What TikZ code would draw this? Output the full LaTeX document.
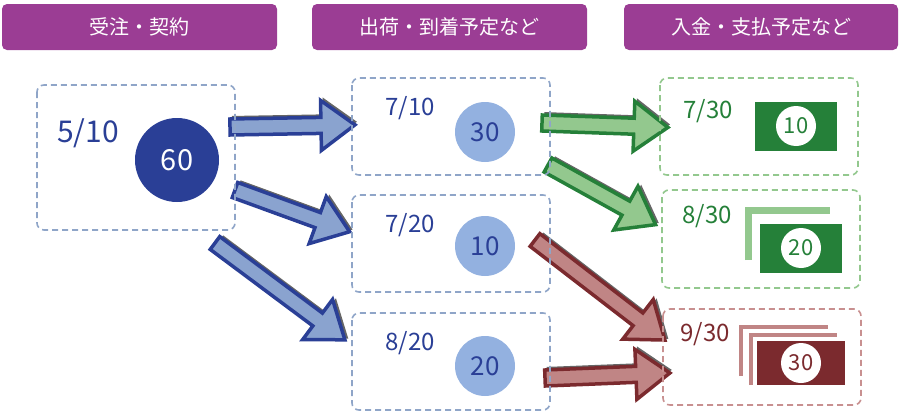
\documentclass[tikz,border=0pt]{standalone}
\usepackage{fontspec}
\setmainfont{Noto Sans CJK JP}
\definecolor{hdr}{HTML}{9B3D94}
\definecolor{bdash}{HTML}{8FA5C8}
\definecolor{bdark}{HTML}{2A3F96}
\definecolor{blight}{HTML}{93B1E0}
\definecolor{barrow}{HTML}{8AA3CF}
\definecolor{gdark}{HTML}{258039}
\definecolor{glight}{HTML}{93C88E}
\definecolor{rdark}{HTML}{7B2A2E}
\definecolor{rlight}{HTML}{C08585}
\definecolor{rdash}{HTML}{C89090}
\newcommand{\blockarrow}[6]{%
\begin{scope}[shift={(#1,#2)},rotate=-#3]
\fill[black!60,shift={(2,-3)}] (0,-8)--(#4-34,-8)--(#4-34,-25)--(#4,0)--(#4-34,25)--(#4-34,8)--(0,8)--cycle;
\draw[line width=3.5pt,line join=miter,fill=#5,draw=#6] (0,-8)--(#4-34,-8)--(#4-34,-25)--(#4,0)--(#4-34,25)--(#4-34,8)--(0,8)--cycle;
\end{scope}}
\begin{document}
\begin{tikzpicture}[x=1pt,y=-1pt,
 dbox/.style={line width=1.6pt,rounded corners=7pt,dash pattern=on 6pt off 4pt},
 datelbl/.style={font=\fontsize{24}{26}\selectfont},
 circ/.style={circle,fill=blight,text=bdark,minimum size=60pt,inner sep=0pt,font=\fontsize{26}{28}\selectfont},
 bill/.style={minimum width=82pt,minimum height=49pt,inner sep=0pt},
 billc/.style={circle,fill=white,minimum size=40pt,inner sep=0pt,font=\fontsize{22}{24}\selectfont},
 hdrtext/.style={text=white,font=\fontsize{20}{22}\selectfont}]
\useasboundingbox (0,0) rectangle (900,415);
\fill[hdr,rounded corners=5pt] (2,4) rectangle (277,50);
\node[hdrtext] (h1) at (139.5,27) {受注・契約};
\fill[hdr,rounded corners=5pt] (312,4) rectangle (587,50);
\node[hdrtext] (h2) at (449.5,27) {出荷・到着予定など};
\fill[hdr,rounded corners=5pt] (624,4) rectangle (898,50);
\node[hdrtext] (h3) at (761,27) {入金・支払予定など};
% arrows
\blockarrow{230}{127}{-1}{125}{barrow}{bdark}
\blockarrow{235}{190}{20}{122}{barrow}{bdark}
\blockarrow{215}{243}{36.7}{162}{barrow}{bdark}
\blockarrow{542}{123}{2}{126}{glight}{gdark}
\blockarrow{548}{165}{29}{123}{glight}{gdark}
\blockarrow{535}{240}{37.6}{164}{rlight}{rdark}
\blockarrow{545}{378}{-2.3}{125}{rlight}{rdark}
% left box
\draw[dbox,draw=bdash] (37,85) rectangle (235,230);
\node[text=bdark,font=\fontsize{30}{32}\selectfont] (d0) at (88,133) {5/10};
\node[circle,fill=bdark,text=white,minimum size=84pt,inner sep=0pt,font=\fontsize{29}{31}\selectfont] (c0) at (177,160) {60};
% middle
\draw[dbox,draw=bdash] (352,78) rectangle (550,175);
\draw[dbox,draw=bdash] (352,195) rectangle (550,292);
\draw[dbox,draw=bdash] (352,313) rectangle (550,410);
\node[datelbl,text=bdark] (d1) at (410,108) {7/10};
\node[circ] (c1) at (485,132) {30};
\node[datelbl,text=bdark] (d2) at (410,225) {7/20};
\node[circ] (c2) at (485,246) {10};
\node[datelbl,text=bdark] (d3) at (410,343) {8/20};
\node[circ] (c3) at (485,366) {20};
% right
\draw[dbox,draw=glight] (660,78) rectangle (858,175);
\draw[dbox,draw=glight] (662,190) rectangle (860,288);
\draw[dbox,draw=rdash] (663,309) rectangle (861,405);
\node[datelbl,text=gdark] (d4) at (708,111) {7/30};
\node[bill,fill=gdark] (b1) at (796,126) {};
\node[billc,text=gdark] (bc1) at (b1) {10};
\node[datelbl,text=gdark] (d5) at (707,216) {8/30};
\draw[glight,line width=7pt] (748,260)--(748,210)--(830,210);
\node[bill,fill=gdark] (b2) at (801,248) {};
\node[billc,text=gdark] (bc2) at (b2) {20};
\node[datelbl,text=rdark] (d6) at (705,334) {9/30};
\draw[rlight,line width=4pt] (741,376)--(741,327)--(828,327);
\draw[white,line width=3pt] (749,385)--(749,333)--(838,333);
\draw[rlight,line width=4pt] (751,385)--(751,335)--(837,335);
\node[bill,fill=rdark,minimum width=88pt,minimum height=44pt] (b3) at (801,363) {};
\node[billc,text=rdark] (bc3) at (b3) {30};
\end{tikzpicture}
\end{document}
